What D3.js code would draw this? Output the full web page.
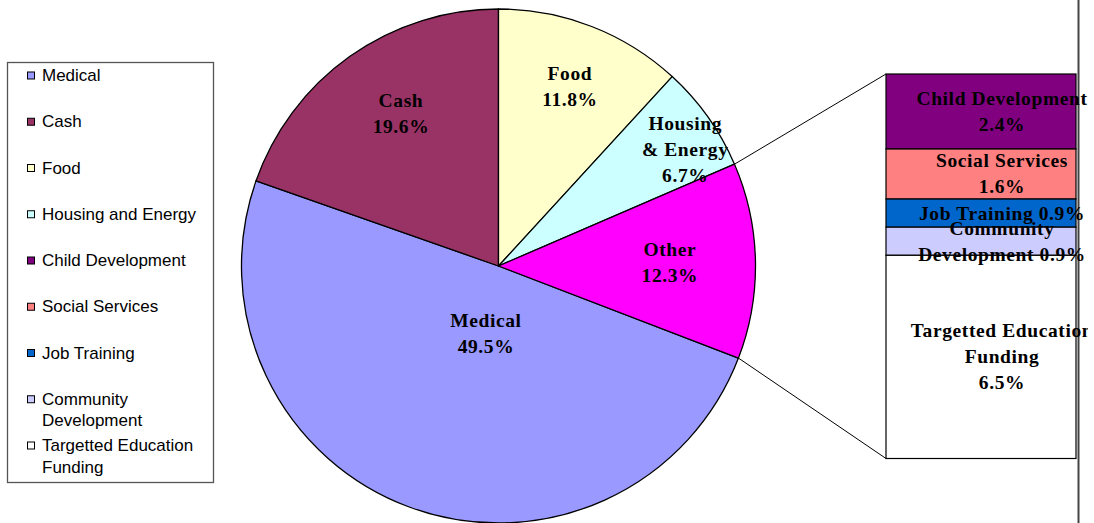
<!DOCTYPE html>
<html>
<head>
<meta charset="utf-8">
<script src="https://cdn.jsdelivr.net/npm/d3@7"></script>
<style>
  body { margin: 0; background: #fff; }
  svg { display: block; }
</style>
</head>
<body>
<div id="chart"></div>
<script>
// pie slices (main categories)
var pieCategories = ["Medical", "Cash", "Food", "Housing and Energy", "Other"];
var pieLabels = [["Medical", "49.5%"], ["Cash", "19.6%"], ["Food", "11.8%"], ["Housing", "& Energy", "6.7%"], ["Other", "12.3%"]];
var pieValues = [49.5, 19.6, 11.8, 6.7, 12.3];
var pieColors = ["#9999FF", "#993366", "#FFFFCC", "#CCFFFF", "#FF00FF"];

// breakdown of "Other" into the bar
var barCategories = ["Child Development", "Social Services", "Job Training", "Community Development", "Targetted Education Funding"];
var barLabels = [["Child Development", "2.4%"], ["Social Services", "1.6%"], ["Job Training 0.9%"], ["Community", "Development 0.9%"], ["Targetted Education", "Funding", "6.5%"]];
var barValues = [2.4, 1.6, 0.9, 0.9, 6.5];
var barColors = ["#800080", "#FF8080", "#0066CC", "#CCCCFF", "#FFFFFF"];

// legend entries (no "Other")
var legendNames = [["Medical"], ["Cash"], ["Food"], ["Housing and Energy"], ["Child Development"], ["Social Services"], ["Job Training"], ["Community", "Development"], ["Targetted Education", "Funding"]];
var legendColors = ["#9999FF", "#993366", "#FFFFCC", "#CCFFFF", "#800080", "#FF8080", "#0066CC", "#CCCCFF", "#FFFFFF"];

const svgWidth = 1094;
const svgHeight = 523;

const svg = d3.select("#chart")
  .append("svg")
  .attr("width", svgWidth)
  .attr("height", svgHeight);

// chart area right edge line
svg.append("line")
  .attr("x1", 1078.5).attr("x2", 1078.5)
  .attr("y1", 0).attr("y2", svgHeight)
  .style("stroke", "#444")
  .style("stroke-width", 2);

// ---- pie ----
const cx = 498.5, cy = 266, radius = 257;
const total = d3.sum(pieValues);
// first slice placed so that Cash ends at 12 o'clock
const start = -2 * Math.PI * (pieValues[0] + pieValues[1]) / total;

const pie = d3.pie().sort(null).value(d => d)
  .startAngle(start).endAngle(start + 2 * Math.PI);
const arcs = pie(pieValues);
const arc = d3.arc().innerRadius(0).outerRadius(radius);

const gPie = svg.append("g").attr("transform", `translate(${cx},${cy})`);

gPie.selectAll("path")
  .data(arcs).enter()
  .append("path")
    .attr("d", arc)
    .style("fill", (d, i) => pieColors[i])
    .style("stroke", "#000")
    .style("stroke-width", 1.3)
    .style("stroke-linejoin", "round");

// label placement inside each slice: distance (fraction of radius) and
// position across the slice's angle (0 = start, 1 = end)
const labelR = [0.267, 0.704, 0.752, 0.857, 0.667];
const labelT = [0.446, 0.538, 0.51, 0.64, 0.5];
const lineH = 26;
const labelFont = "'Liberation Serif', 'Times New Roman', serif";
const labelSize = 19.5;

gPie.selectAll(".plabel")
  .data(arcs).enter()
  .append("text")
    .attr("class", "plabel")
    .attr("transform", function(d, i) {
      var a = d.startAngle + (d.endAngle - d.startAngle) * labelT[i];
      var r = radius * labelR[i];
      return `translate(${Math.sin(a) * r},${-Math.cos(a) * r})`;
    })
    .style("font-family", labelFont)
    .style("font-weight", "bold")
    .style("font-size", labelSize + "px")
    .style("letter-spacing", "0.6px")
    .style("text-anchor", "middle")
    .each(function(d, i) {
      var lines = pieLabels[i];
      var y0 = -(lines.length - 1) * lineH / 2 + labelSize * 0.33;
      d3.select(this).selectAll("tspan")
        .data(lines).enter()
        .append("tspan")
          .attr("x", 0)
          .attr("y", (t, j) => y0 + j * lineH)
          .text(t => t);
    });

// ---- bar of "Other" ----
const barX0 = 886, barX1 = 1076;
const barTotal = d3.sum(barValues);
const yBar = d3.scaleLinear().domain([0, barTotal]).range([74, 458.5]);
const stacked = [];
var acc = 0;
barValues.forEach(function(v, i) {
  stacked.push({i: i, y0: acc, y1: acc + v});
  acc += v;
});

// connector lines from the "Other" slice edges to the bar
const other = arcs[4];
const pTop = [cx + Math.sin(other.startAngle) * radius, cy - Math.cos(other.startAngle) * radius];
const pBot = [cx + Math.sin(other.endAngle) * radius, cy - Math.cos(other.endAngle) * radius];
svg.append("line")
  .attr("x1", pTop[0]).attr("y1", pTop[1])
  .attr("x2", barX0).attr("y2", yBar(0))
  .style("stroke", "#000").style("stroke-width", 1);
svg.append("line")
  .attr("x1", pBot[0]).attr("y1", pBot[1])
  .attr("x2", barX0).attr("y2", yBar(barTotal))
  .style("stroke", "#000").style("stroke-width", 1);

svg.selectAll(".seg")
  .data(stacked).enter()
  .append("rect")
    .attr("class", "seg")
    .attr("x", barX0)
    .attr("y", d => yBar(d.y0))
    .attr("width", barX1 - barX0)
    .attr("height", d => yBar(d.y1) - yBar(d.y0))
    .style("fill", d => barColors[d.i])
    .style("stroke", "#000")
    .style("stroke-width", 1.2);

svg.append("clipPath").attr("id", "clipR")
  .append("rect").attr("x", 0).attr("y", 0).attr("width", 1088).attr("height", svgHeight);

svg.append("g").attr("clip-path", "url(#clipR)")
  .selectAll(".blabel")
  .data(stacked).enter()
  .append("text")
    .attr("class", "blabel")
    .attr("transform", d => `translate(${(barX0 + barX1) / 2 + 21},${(yBar(d.y0) + yBar(d.y1)) / 2})`)
    .style("font-family", labelFont)
    .style("font-weight", "bold")
    .style("font-size", labelSize + "px")
    .style("letter-spacing", "0.6px")
    .style("text-anchor", "middle")
    .each(function(d) {
      var lines = barLabels[d.i];
      var y0 = -(lines.length - 1) * lineH / 2 + labelSize * 0.33;
      d3.select(this).selectAll("tspan")
        .data(lines).enter()
        .append("tspan")
          .attr("x", 0)
          .attr("y", (t, j) => y0 + j * lineH)
          .text(t => t);
    });

// ---- legend ----
const legend = svg.append("g");
legend.append("rect")
  .attr("x", 7.5).attr("y", 62.5)
  .attr("width", 206).attr("height", 420)
  .style("fill", "#fff")
  .style("stroke", "#555")
  .style("stroke-width", 1.3);

const legendY = d3.scaleLinear().domain([0, legendNames.length - 1]).range([75, 445]);

const items = legend.selectAll(".item")
  .data(legendNames).enter()
  .append("g")
    .attr("class", "item")
    .attr("transform", (d, i) => `translate(0,${legendY(i)})`);

items.append("rect")
  .attr("x", 27.5).attr("y", -3)
  .attr("width", 7).attr("height", 7)
  .style("fill", (d, i) => legendColors[i])
  .style("stroke", "#000")
  .style("stroke-width", 1);

items.append("text")
  .style("font-family", "'Liberation Sans', Arial, sans-serif")
  .style("font-size", "17px")
  .style("fill", "#000")
  .selectAll("tspan")
  .data(d => d).enter()
  .append("tspan")
    .attr("x", 42)
    .attr("y", (t, j) => 6 + j * 21.5)
    .text(t => t);
</script>
</body>
</html>
